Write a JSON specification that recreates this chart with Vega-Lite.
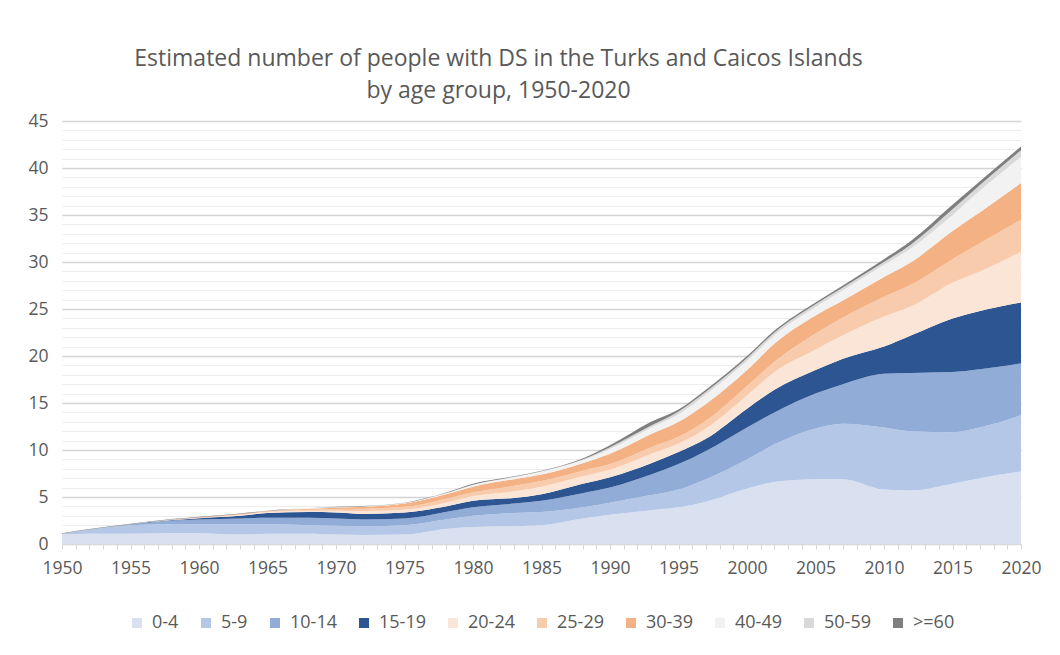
{
"$schema": "https://vega.github.io/schema/vega-lite/v6.json",
"width": 959, "height": 423,
"autosize": {"type": "none"},
"padding": {"left": 62, "top": 121, "right": 39, "bottom": 111},
"background": "white",
"title": {"text": ["Estimated number of people with DS in the Turks and Caicos Islands", "by age group, 1950-2020"], "fontSize": 23, "font": "Open Sans", "fontWeight": "normal", "color": "#595959", "lineHeight": 32, "dx": -43, "offset": 9},
"datasets": {"wide": [
{"year":1950,"a":1.0,"b":0.1,"c":0,"d":0,"e":0,"f":0,"g":0,"h":0,"i":0,"j":0.05},
{"year":1952,"a":1.1,"b":0.45,"c":0,"d":0,"e":0,"f":0,"g":0,"h":0,"i":0,"j":0.05},
{"year":1955,"a":1.1,"b":0.9,"c":0.1,"d":0,"e":0,"f":0,"g":0,"h":0,"i":0,"j":0.05},
{"year":1958,"a":1.15,"b":0.95,"c":0.4,"d":0.05,"e":0.05,"f":0,"g":0,"h":0,"i":0,"j":0.05},
{"year":1960,"a":1.15,"b":0.95,"c":0.5,"d":0.15,"e":0.05,"f":0,"g":0.05,"h":0,"i":0,"j":0.05},
{"year":1963,"a":1.0,"b":1.1,"c":0.6,"d":0.3,"e":0.1,"f":0.05,"g":0.05,"h":0,"i":0,"j":0.05},
{"year":1965,"a":1.1,"b":1.0,"c":0.7,"d":0.5,"e":0.1,"f":0.05,"g":0.05,"h":0,"i":0,"j":0.05},
{"year":1968,"a":1.1,"b":0.9,"c":0.8,"d":0.6,"e":0.15,"f":0.1,"g":0.1,"h":0.05,"i":0,"j":0},
{"year":1970,"a":1.0,"b":0.95,"c":0.75,"d":0.65,"e":0.2,"f":0.15,"g":0.15,"h":0.05,"i":0,"j":0.05},
{"year":1972,"a":0.95,"b":0.95,"c":0.7,"d":0.6,"e":0.3,"f":0.25,"g":0.2,"h":0.05,"i":0,"j":0.05},
{"year":1975,"a":1.0,"b":1.0,"c":0.7,"d":0.65,"e":0.3,"f":0.3,"g":0.35,"h":0.05,"i":0,"j":0.05},
{"year":1978,"a":1.6,"b":1.0,"c":0.8,"d":0.6,"e":0.4,"f":0.4,"g":0.5,"h":0.1,"i":0,"j":0.05},
{"year":1980,"a":1.8,"b":1.2,"c":0.9,"d":0.7,"e":0.5,"f":0.4,"g":0.6,"h":0.2,"i":0,"j":0.1},
{"year":1983,"a":1.9,"b":1.4,"c":1.0,"d":0.6,"e":0.7,"f":0.6,"g":0.7,"h":0.2,"i":0.05,"j":0.05},
{"year":1985,"a":2.0,"b":1.4,"c":1.2,"d":0.7,"e":0.8,"f":0.6,"g":0.7,"h":0.3,"i":0.05,"j":0.05},
{"year":1988,"a":2.7,"b":1.2,"c":1.5,"d":1.0,"e":0.8,"f":0.6,"g":0.8,"h":0.3,"i":0.1,"j":0.1},
{"year":1990,"a":3.1,"b":1.3,"c":1.6,"d":1.1,"e":0.8,"f":0.6,"g":1.1,"h":0.5,"i":0.2,"j":0.2},
{"year":1993,"a":3.6,"b":1.6,"c":2.2,"d":1.2,"e":1.0,"f":0.7,"g":1.4,"h":0.7,"i":0.2,"j":0.4},
{"year":1995,"a":3.9,"b":1.9,"c":2.7,"d":1.3,"e":0.9,"f":0.7,"g":1.6,"h":0.8,"i":0.3,"j":0.2},
{"year":1997,"a":4.5,"b":2.4,"c":3.0,"d":1.3,"e":1.1,"f":0.8,"g":1.8,"h":1.0,"i":0.3,"j":0.2},
{"year":2000,"a":5.9,"b":3.1,"c":3.4,"d":2.0,"e":1.4,"f":1.0,"g":1.7,"h":1.0,"i":0.3,"j":0.2},
{"year":2002,"a":6.6,"b":4.0,"c":3.4,"d":2.4,"e":1.9,"f":1.1,"g":1.9,"h":0.9,"i":0.3,"j":0.2},
{"year":2005,"a":6.9,"b":5.4,"c":3.7,"d":2.5,"e":2.2,"f":1.7,"g":1.9,"h":0.9,"i":0.3,"j":0.2},
{"year":2007,"a":6.9,"b":5.9,"c":4.2,"d":2.7,"e":2.5,"f":1.9,"g":1.8,"h":1.1,"i":0.3,"j":0.2},
{"year":2010,"a":5.8,"b":6.6,"c":5.7,"d":2.9,"e":3.2,"f":2.1,"g":2.1,"h":1.3,"i":0.3,"j":0.3},
{"year":2012,"a":5.7,"b":6.3,"c":6.2,"d":4.0,"e":3.1,"f":2.3,"g":2.4,"h":1.5,"i":0.4,"j":0.4},
{"year":2015,"a":6.4,"b":5.5,"c":6.4,"d":5.7,"e":3.8,"f":2.5,"g":3.0,"h":1.7,"i":0.6,"j":0.5},
{"year":2017,"a":7.0,"b":5.4,"c":6.2,"d":6.2,"e":4.2,"f":3.0,"g":3.3,"h":2.3,"i":0.6,"j":0.4},
{"year":2020,"a":7.7,"b":6.0,"c":5.5,"d":6.5,"e":5.4,"f":3.4,"g":3.9,"h":2.8,"i":0.7,"j":0.4}
],
"groups": [
{"key":"a","group":"0-4","k":1},{"key":"b","group":"5-9","k":2},{"key":"c","group":"10-14","k":3},{"key":"d","group":"15-19","k":4},{"key":"e","group":"20-24","k":5},
{"key":"f","group":"25-29","k":6},{"key":"g","group":"30-39","k":7},{"key":"h","group":"40-49","k":8},{"key":"i","group":"50-59","k":9},{"key":"j","group":">=60","k":10}
]},
"data": {"name": "wide"},
"transform": [
{"fold": ["a","b","c","d","e","f","g","h","i","j"], "as": ["key","value"]},
{"lookup": "key", "from": {"data": {"name": "groups"}, "key": "key", "fields": ["group","k"]}}
],
"mark": {"type": "area", "interpolate": "monotone"},
"encoding": {
"x": {"field": "year", "type": "quantitative", "scale": {"domain": [1950, 2020], "nice": false, "zero": false},
 "axis": {"title": null, "values": [1950,1951,1952,1953,1954,1955,1956,1957,1958,1959,1960,1961,1962,1963,1964,1965,1966,1967,1968,1969,1970,1971,1972,1973,1974,1975,1976,1977,1978,1979,1980,1981,1982,1983,1984,1985,1986,1987,1988,1989,1990,1991,1992,1993,1994,1995,1996,1997,1998,1999,2000,2001,2002,2003,2004,2005,2006,2007,2008,2009,2010,2011,2012,2013,2014,2015,2016,2017,2018,2019,2020],
  "format": "d", "labelExpr": "datum.value % 5 === 0 ? datum.label : ''", "labelOverlap": false, "labelFlush": false,
  "grid": false, "tickSize": 5, "tickColor": "#d9d9d9", "domainColor": "#d9d9d9", "labelFontSize": 17.5, "labelColor": "#595959", "labelPadding": 10, "labelFont": "Open Sans"}},
"y": {"field": "value", "type": "quantitative", "stack": "zero", "scale": {"domain": [0, 45], "nice": false},
 "axis": {"title": null, "values": [0,1,2,3,4,5,6,7,8,9,10,11,12,13,14,15,16,17,18,19,20,21,22,23,24,25,26,27,28,29,30,31,32,33,34,35,36,37,38,39,40,41,42,43,44,45],
  "labelExpr": "datum.value % 5 === 0 ? datum.label : ''", "labelOverlap": false, "ticks": false, "domain": false,
  "gridColor": {"condition": {"test": "datum.value % 5 === 0", "value": "#d4d4d4"}, "value": "#ededed"},
  "gridWidth": {"condition": {"test": "datum.value % 5 === 0", "value": 1.3}, "value": 1},
  "labelFontSize": 17.5, "labelColor": "#595959", "labelPadding": 14, "labelFont": "Open Sans"}},
"color": {"field": "group", "type": "nominal",
 "scale": {"domain": ["0-4","5-9","10-14","15-19","20-24","25-29","30-39","40-49","50-59",">=60"],
  "range": ["#d9e1f0","#b4c7e7","#91acd6","#2c5592","#fbe5d6","#f8cbad","#f4b183","#f2f2f2","#d9d9d9","#7f7f7f"]},
 "legend": {"orient": "bottom", "direction": "horizontal", "title": null, "symbolType": "square", "symbolSize": 100, "symbolStrokeWidth": 0,
  "labelFontSize": 18, "labelColor": "#595959", "labelFont": "Open Sans", "columnPadding": 18, "labelOffset": 6, "offset": 37}},
"order": {"field": "k", "type": "quantitative", "sort": "ascending"}
},
"config": {"view": {"stroke": null}, "font": "Open Sans", "legend": {"layout": {"bottom": {"anchor": "middle"}}}}
}
